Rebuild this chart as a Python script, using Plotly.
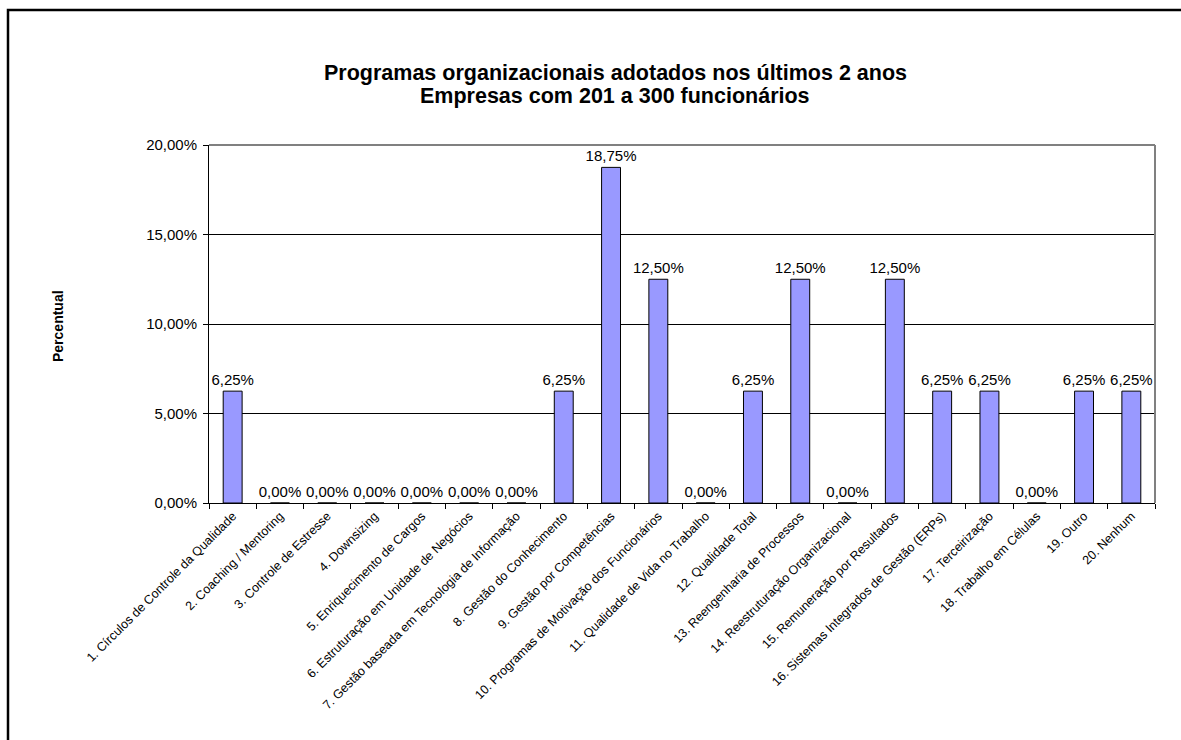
import plotly.graph_objects as go

categories = [
    "1. Círculos de Controle da Qualidade",
    "2. Coaching / Mentoring",
    "3. Controle de Estresse",
    "4. Downsizing",
    "5. Enriquecimento de Cargos",
    "6. Estruturação em Unidade de Negócios",
    "7. Gestão baseada em Tecnologia de Informação",
    "8. Gestão do Conhecimento",
    "9. Gestão por Competências",
    "10. Programas de Motivação dos Funcionários",
    "11. Qualidade de Vida no Trabalho",
    "12. Qualidade Total",
    "13. Reengenharia de Processos",
    "14. Reestruturação Organizacional",
    "15. Remuneração por Resultados",
    "16. Sistemas Integrados de Gestão (ERPs)",
    "17. Terceirização",
    "18. Trabalho em Células",
    "19. Outro",
    "20. Nenhum",
]
values = [0.0625, 0.0, 0.0, 0.0, 0.0, 0.0, 0.0, 0.0625, 0.1875, 0.125,
          0.0, 0.0625, 0.125, 0.0, 0.125, 0.0625, 0.0625, 0.0, 0.0625, 0.0625]
y_ticks = [0.0, 0.05, 0.10, 0.15, 0.20]

title_line1 = "Programas organizacionais adotados nos últimos 2 anos"
title_line2 = "Empresas com 201 a 300 funcionários"
y_title = "Percentual"

FONT = "Arial, Liberation Sans, sans-serif"

fig = go.Figure(
    go.Bar(
        x=categories,
        y=values,
        marker=dict(color="#9999FF", line=dict(color="black", width=1)),
        texttemplate="%{y:.2%}",
        textposition="outside",
        constraintext="none",
        textfont=dict(family=FONT, size=15, color="black"),
        cliponaxis=False,
        hoverinfo="skip",
    )
)

W, H = 1181, 740
L, R, T, B = 209, 26, 145, 237
pw, ph = W - L - R, H - T - B

def px(x):
    return (x - L) / pw

def py(y):
    return (H - B - y) / ph

fig.update_layout(
    width=W, height=H,
    margin=dict(l=L, r=R, t=T, b=B, pad=0),
    paper_bgcolor="white",
    plot_bgcolor="white",
    separators=",.",
    bargap=0.6,
    showlegend=False,
    font=dict(family=FONT, color="black"),
    xaxis=dict(
        type="category",
        tickangle=-45,
        tickfont=dict(family=FONT, size=12.5, color="black"),
        showline=True, linecolor="black", linewidth=1,
        ticks="outside", ticklen=5, tickcolor="black", tickwidth=1,
        tickson="boundaries",
        showgrid=False,
        automargin=False,
    ),
    yaxis=dict(
        range=[0, 0.20],
        tickvals=y_ticks,
        tickformat=".2%",
        tickfont=dict(family=FONT, size=15, color="black"),
        ticklabelstandoff=3,
        showline=True, linecolor="black", linewidth=1,
        ticks="outside", ticklen=5, tickcolor="black", tickwidth=1,
        showgrid=True, gridcolor="black", gridwidth=1,
        zeroline=False,
        automargin=False,
    ),
    annotations=[
        dict(text="<b>" + title_line1 + "</b>",
             xref="paper", yref="paper", x=px(615), y=py(73),
             xanchor="center", yanchor="middle", showarrow=False,
             font=dict(family=FONT, size=21.5, color="black")),
        dict(text="<b>" + title_line2 + "</b>",
             xref="paper", yref="paper", x=px(615), y=py(96),
             xanchor="center", yanchor="middle", showarrow=False,
             font=dict(family=FONT, size=21.5, color="black")),
        dict(text="<b>" + y_title + "</b>",
             xref="paper", yref="paper", x=px(58), y=py(326),
             xanchor="center", yanchor="middle", showarrow=False, textangle=-90,
             font=dict(family=FONT, size=14, color="black")),
    ],
    shapes=[
        dict(type="rect", xref="paper", yref="paper",
             x0=px(8), y0=py(800), x1=px(1250), y1=py(10),
             line=dict(color="black", width=2.5), layer="above"),
        dict(type="line", xref="paper", yref="paper",
             x0=0, y0=1, x1=1, y1=1,
             line=dict(color="#808080", width=2), layer="above"),
        dict(type="line", xref="paper", yref="paper",
             x0=1, y0=0, x1=1, y1=1,
             line=dict(color="#808080", width=2), layer="above"),
    ],
)

fig.write_html("out.html")
